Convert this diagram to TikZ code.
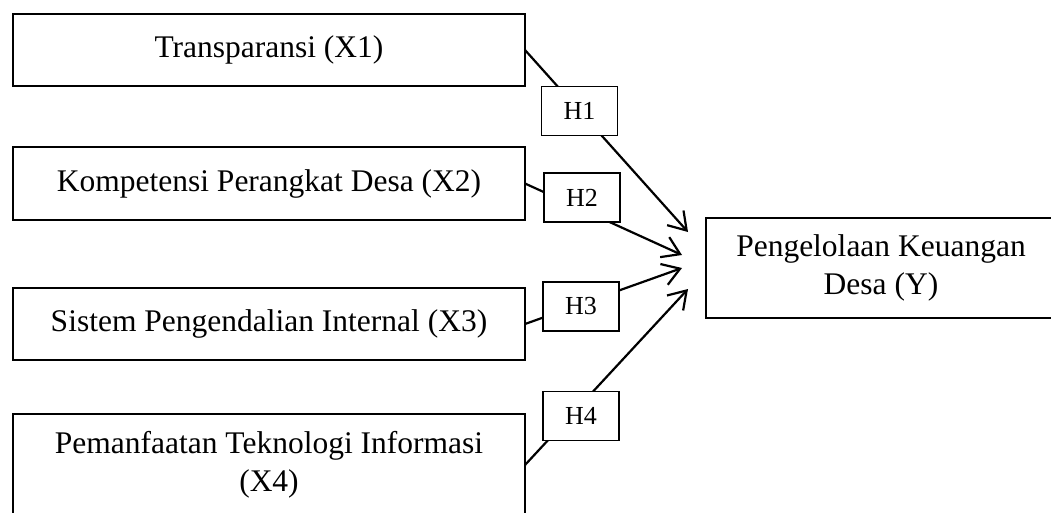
\documentclass[tikz,border=0pt]{standalone}
\usepackage{fontspec}
\setmainfont{Liberation Serif}
\usetikzlibrary{positioning}
\usetikzlibrary{calc}
\usetikzlibrary{arrows.meta}
\tikzstyle{var}=[rectangle,draw,line width=2.2pt,align=center,minimum width=512pt,inner sep=0pt,outer sep=0pt,font=\fontsize{31.5}{38}\selectfont]
\tikzstyle{hyp}=[rectangle,draw,fill=white,line width=1.6pt,minimum width=76pt,minimum height=49pt,inner sep=0pt,font=\fontsize{26}{30}\selectfont]

\begin{document}
\begin{tikzpicture}
	[x=1pt,y=1pt,node distance=61pt]
	\tikzstyle{arrow}=[-{Straight Barb[length=17pt,width=22pt]},line width=2.2pt];
	\useasboundingbox (0,0) rectangle (1051,-512);
	\node (x1) [var,minimum height=72pt,anchor=north west] at (13,-14) {Transparansi (X1)};
	\node (x2) [var,minimum height=73pt,below=of x1] {Kompetensi Perangkat Desa (X2)};
	\node (x3) [var,minimum height=72pt,below=68pt of x2] {Sistem Pengendalian Internal (X3)};
	\node (x4) [var,minimum height=102pt,below=54pt of x3] {Pemanfaatan Teknologi Informasi\\(X4)};
	\node (y) [var,minimum width=350pt,minimum height=100pt] at (881,-268) {Pengelolaan Keuangan\\Desa (Y)};
	% arrow ends just left of the outcome box
	\coordinate (t1) at ($(y.west)+(-18,36)$);
	\coordinate (t2) at ($(y.west)+(-24,13)$);
	\coordinate (t3) at ($(y.west)+(-24,0)$);
	\coordinate (t4) at ($(y.west)+(-18,-21)$);
	\path[arrow]
		(x1.east) edge (t1)
		(x2.east) edge (t2)
		(x3.east) edge (t3)
		(x4.east) edge (t4);
	% hypothesis labels on top of the arrows
	\node (h1) [hyp] at (579.5,-111) {H1};
	\node (h2) [hyp] at (582,-197.5) {H2};
	\node (h3) [hyp] at (581,-306.5) {H3};
	\node (h4) [hyp] at (581,-416) {H4};
\end{tikzpicture}
\end{document}
